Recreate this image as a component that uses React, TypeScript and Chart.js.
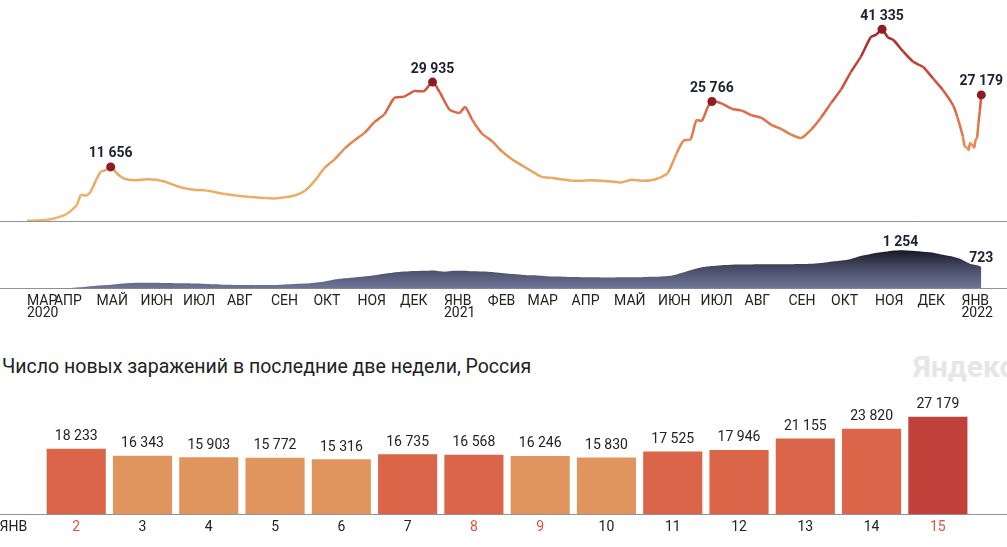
import { useEffect, useRef } from "react";
import { Chart, registerables } from "chart.js";

Chart.register(...registerables);
Chart.defaults.font.family = "Roboto";

// day offsets from 13 March 2020
const caseDays = [
  0, 7, 14, 21, 28, 35, 38, 42, 45, 49, 52, 56, 59, 63, 66, 70, 77, 84, 91, 98,
  105, 112, 119, 126, 133, 140, 147, 154, 161, 168, 175, 182, 189, 196, 203,
  210, 217, 224, 231, 238, 245, 252, 259, 266, 273, 280, 286, 291, 298, 305,
  309, 314, 321, 328, 335, 342, 349, 356, 363, 370, 377, 384, 391, 398, 405,
  412, 419, 426, 433, 440, 446, 452, 458, 463, 468, 472, 476, 480, 483, 490,
  497, 504, 511, 518, 525, 532, 539, 546, 553, 560, 567, 574, 581, 588, 595,
  599, 603, 607, 611, 618, 625, 632, 639, 646, 653, 656,
];
const caseValues = [
  30, 90, 250, 700, 1500, 3400, 5600, 5500, 6400, 9000, 10600, 11000, 11656,
  10400, 9600, 9000, 8800, 9000, 8900, 8400, 7600, 7000, 6700, 6600, 6200, 5800,
  5500, 5300, 5100, 4950, 4850, 5100, 5500, 6500, 8700, 11500, 13300, 15600,
  17400, 19000, 21300, 23000, 26500, 26800, 28000, 28000, 29935, 27800, 24000,
  23300, 24600, 21800, 18800, 17200, 15000, 13300, 12000, 10700, 9500, 9300,
  9000, 8700, 8700, 8800, 8700, 8500, 8300, 8900, 8700, 8800, 9300, 10400,
  14500, 17300, 17600, 21700, 21600, 24500, 25766, 25300, 24200, 23800, 22800,
  22200, 20700, 19800, 18600, 17900, 19700, 22300, 25400, 28300, 32100, 35400,
  39600, 40200, 41335, 39600, 39000, 36500, 34300, 33200, 30700, 28200, 25000,
  22500,
];
const labeledCaseDays = [59, 286, 483, 603, 673];

const deathDays = [
  0, 7, 14, 21, 28, 35, 42, 49, 56, 63, 70, 77, 84, 91, 98, 105, 112, 119, 126,
  133, 140, 147, 154, 161, 168, 175, 182, 189, 196, 203, 210, 217, 224, 231,
  238, 245, 252, 259, 266, 273, 280, 287, 294, 301, 308, 315, 322, 329, 336,
  343, 350, 357, 364, 371, 378, 385, 392, 399, 406, 413, 420, 427, 434, 441,
  448, 455, 462, 469, 476, 483, 490, 497, 504, 511, 518, 525, 532, 539, 546,
  553, 560, 567, 574, 581, 588, 595, 602, 609, 616, 623, 630, 637, 644, 651,
  658, 665, 670, 673,
];
const deathValues = [
  0, 1, 3, 8, 20, 45, 70, 100, 120, 150, 180, 200, 200, 200, 190, 185, 180, 170,
  160, 150, 130, 125, 120, 118, 120, 125, 140, 155, 170, 200, 240, 300, 340,
  370, 400, 440, 490, 530, 560, 580, 590, 600, 560, 590, 590, 570, 560, 540,
  510, 480, 450, 440, 420, 400, 395, 385, 380, 375, 370, 370, 375, 380, 380,
  390, 400, 430, 520, 620, 700, 740, 770, 785, 790, 795, 800, 800, 800, 800,
  805, 815, 840, 880, 920, 975, 1070, 1135, 1190, 1235, 1254, 1240, 1220, 1190,
  1130, 1070, 980, 820, 770, 723,
];
const labeledDeathDays = [616, 673];

const monthDays = [
  0, 19, 49, 80, 110, 141, 172, 202, 233, 263, 294, 325, 353, 384, 414, 445,
  475, 506, 537, 567, 598, 628, 659,
];
const monthLabels: (string | string[])[] = [
  ["МАР", "2020"], "АПР", "МАЙ", "ИЮН", "ИЮЛ", "АВГ", "СЕН", "ОКТ", "НОЯ", "ДЕК",
  ["ЯНВ", "2021"], "ФЕВ", "МАР", "АПР", "МАЙ", "ИЮН", "ИЮЛ", "АВГ", "СЕН", "ОКТ",
  "НОЯ", "ДЕК", ["ЯНВ", "2022"],
];

// last two weeks, January 2022
const barMonth = "ЯНВ";
const barDays = [2, 3, 4, 5, 6, 7, 8, 9, 10, 11, 12, 13, 14, 15];
const barValues = [
  18233, 16343, 15903, 15772, 15316, 16735, 16568, 16246, 15830, 17525, 17946,
  21155, 23820, 27179,
];
const redDays = [2, 8, 9, 15];

const TITLE = "Число новых заражений в последние две недели, Россия";
const DARK = "#1f2133";
const AXIS = "#8e92a3";
const DAY_PX = 1.418;
const X_MIN = -27 / DAY_PX;
const X_MAX = (1007 - 27) / DAY_PX;

const fmt = (v: number) => String(v).replace(/\B(?=(\d{3})+(?!\d))/g, " ");

const stops: [number, number[]][] = [
  [0, [236, 181, 106]],
  [10000, [234, 168, 98]],
  [17000, [228, 134, 79]],
  [24000, [220, 102, 69]],
  [30000, [208, 80, 59]],
  [36000, [184, 53, 47]],
  [41500, [160, 36, 40]],
];
const lineColor = (v: number) => {
  for (let i = 1; i < stops.length; i++) {
    if (v <= stops[i][0] || i === stops.length - 1) {
      const [a, ca] = stops[i - 1];
      const [b, cb] = stops[i];
      const t = Math.max(0, Math.min(1, (v - a) / (b - a)));
      const c = ca.map((x, k) => Math.round(x + (cb[k] - x) * t));
      return `rgb(${c[0]},${c[1]},${c[2]})`;
    }
  }
  return "#a02428";
};
const barColor = (v: number) =>
  v > 25000 ? "#c0413a" : v > 16500 ? "#db6548" : "#e0955e";

const resetPadding = (scale: any) => {
  scale.paddingLeft = 0;
  scale.paddingRight = 0;
};

const App = () => {
  const lineRef = useRef<HTMLCanvasElement>(null);
  const deathRef = useRef<HTMLCanvasElement>(null);
  const barRef = useRef<HTMLCanvasElement>(null);

  useEffect(() => {
    const charts: Chart[] = [];
    const allDays = [...caseDays, ...barDays.map((d) => 658 + d)];
    const allValues = [...caseValues, ...barValues];

    const pointLabels = {
      id: "pointLabels",
      afterDatasetsDraw(chart: any) {
        const ctx = chart.ctx;
        const meta = chart.getDatasetMeta(0);
        const days: number[] = chart.options.plugins.pointLabels.days;
        const dot: boolean = chart.options.plugins.pointLabels.dot;
        const offset: number = chart.options.plugins.pointLabels.offset;
        const src = chart.data.datasets[0].data as { x: number; y: number }[];
        ctx.save();
        days.forEach((d) => {
          const i = src.findIndex((p) => p.x === d);
          if (i < 0) return;
          const el = meta.data[i];
          if (dot) {
            ctx.beginPath();
            ctx.arc(el.x, el.y, 4.5, 0, Math.PI * 2);
            ctx.fillStyle = "#8e1c22";
            ctx.fill();
          }
          ctx.font = "bold 14px Roboto";
          ctx.fillStyle = DARK;
          ctx.textAlign = "center";
          ctx.textBaseline = "middle";
          ctx.fillText(fmt(src[i].y), el.x, el.y - offset);
        });
        ctx.restore();
      },
    };

    if (lineRef.current) {
      charts.push(
        new Chart(lineRef.current, {
          type: "line",
          data: {
            datasets: [
              {
                data: allDays.map((d, i) => ({ x: d, y: allValues[i] })),
                borderWidth: 2.5,
                pointRadius: 0,
                tension: 0.2,
                borderColor: "#e0955e",
                segment: {
                  borderColor: (c: any) =>
                    lineColor((c.p0.parsed.y + c.p1.parsed.y) / 2),
                },
              },
            ],
          },
          options: {
            animation: false,
            responsive: true,
            maintainAspectRatio: false,
            layout: { padding: { bottom: 1 } },
            plugins: {
              legend: { display: false },
              tooltip: { enabled: false },
              pointLabels: { days: labeledCaseDays, dot: true, offset: 13 },
            } as any,
            scales: {
              x: {
                type: "linear",
                min: X_MIN,
                max: X_MAX,
                grid: { display: false, drawTicks: false },
                ticks: { display: false },
                border: { display: true, color: AXIS, width: 1 },
              },
              y: { display: false, min: 0, max: 47630 },
            },
          },
          plugins: [pointLabels],
        })
      );
    }

    if (deathRef.current) {
      charts.push(
        new Chart(deathRef.current, {
          type: "line",
          data: {
            datasets: [
              {
                data: deathDays.map((d, i) => ({ x: d, y: deathValues[i] })),
                borderWidth: 0,
                pointRadius: 0,
                tension: 0.2,
                fill: "origin",
                backgroundColor: (c: any) => {
                  const { chart } = c;
                  const area = chart.chartArea;
                  if (!area) return "#6c7295";
                  const top = chart.scales.y.getPixelForValue(1254);
                  const g = chart.ctx.createLinearGradient(0, top, 0, area.bottom);
                  g.addColorStop(0, "#181826");
                  g.addColorStop(0.45, "#474a65");
                  g.addColorStop(1, "#6f7698");
                  return g;
                },
              },
            ],
          },
          options: {
            animation: false,
            responsive: true,
            maintainAspectRatio: false,
            layout: { padding: { bottom: 3 } },
            plugins: {
              legend: { display: false },
              tooltip: { enabled: false },
              pointLabels: { days: labeledDeathDays, dot: false, offset: 8 },
            } as any,
            scales: {
              x: {
                type: "linear",
                min: X_MIN,
                max: X_MAX,
                grid: { display: false, drawTicks: false },
                border: { display: true, color: AXIS, width: 1 },
                afterBuildTicks: (s: any) => {
                  s.ticks = monthDays.map((v) => ({ value: v }));
                },
                afterFit: resetPadding,
                ticks: {
                  autoSkip: false,
                  maxRotation: 0,
                  minRotation: 0,
                  align: "start",
                  padding: 6,
                  color: "#222",
                  font: { size: 14, lineHeight: 0.9 },
                  callback: (_v: any, i: number) => monthLabels[i],
                },
              },
              y: { display: false, min: 0, max: 2178 },
            },
          },
          plugins: [pointLabels],
        })
      );
    }

    if (barRef.current) {
      const barLabels = {
        id: "barLabels",
        afterDatasetsDraw(chart: any) {
          const ctx = chart.ctx;
          ctx.save();
          ctx.font = "14px Roboto";
          ctx.fillStyle = "#222";
          ctx.textAlign = "center";
          ctx.textBaseline = "middle";
          chart.getDatasetMeta(0).data.forEach((bar: any, i: number) => {
            ctx.fillText(fmt(barValues[i]), bar.x, bar.y - 12);
          });
          ctx.restore();
        },
      };
      charts.push(
        new Chart(barRef.current, {
          type: "bar",
          data: {
            datasets: [
              {
                data: barValues.map((v, i) => ({ x: i, y: v })),
                backgroundColor: barValues.map(barColor),
                barPercentage: 0.94,
                categoryPercentage: 1,
              },
            ],
          },
          options: {
            animation: false,
            responsive: true,
            maintainAspectRatio: false,
            layout: { padding: { bottom: 6 } },
            plugins: {
              legend: { display: false },
              tooltip: { enabled: false },
            },
            scales: {
              x: {
                type: "linear",
                min: -1.15,
                max: 14.043,
                offset: false,
                grid: { display: false, drawTicks: false },
                border: { display: true, color: AXIS, width: 1 },
                afterBuildTicks: (s: any) => {
                  s.ticks = [{ value: -0.949 }, ...barDays.map((_d, i) => ({ value: i }))];
                },
                afterFit: resetPadding,
                ticks: {
                  autoSkip: false,
                  maxRotation: 0,
                  minRotation: 0,
                  padding: 5,
                  font: { size: 14 },
                  color: (c: any) =>
                    c.index > 0 && redDays.includes(barDays[c.index - 1])
                      ? "#e8503a"
                      : "#222",
                  callback: (_v: any, i: number) =>
                    i === 0 ? barMonth : String(barDays[i - 1]),
                },
              },
              y: { display: false, min: 0, max: 36060 },
            },
          },
          plugins: [barLabels],
        })
      );
    }

    return () => {
      charts.forEach((c) => c.destroy());
    };
  }, []);

  return (
    <div
      style={{
        position: "absolute",
        left: 0,
        top: 0,
        width: 1007,
        height: 547,
        overflow: "hidden",
        background: "#fff",
        fontFamily: "Roboto, sans-serif",
      }}
    >
      <div style={{ position: "absolute", left: 0, top: 0, width: 1007, height: 222 }}>
        <canvas ref={lineRef} />
      </div>
      <div style={{ position: "absolute", left: 0, top: 222, width: 1007, height: 107 }}>
        <canvas ref={deathRef} />
      </div>
      <div
        style={{
          position: "absolute",
          left: 2,
          top: 356,
          fontSize: 19.5,
          lineHeight: "22px",
          color: "#222",
          whiteSpace: "nowrap",
        }}
      >
        {TITLE}
      </div>
      <div
        style={{
          position: "absolute",
          left: 913,
          top: 350,
          fontSize: 30,
          lineHeight: "34px",
          fontWeight: 700,
          color: "#e6e6e6",
          whiteSpace: "nowrap",
        }}
      >
        Яндекс
      </div>
      <div style={{ position: "absolute", left: 0, top: 385, width: 1007, height: 162 }}>
        <canvas ref={barRef} />
      </div>
    </div>
  );
};

export default App;
